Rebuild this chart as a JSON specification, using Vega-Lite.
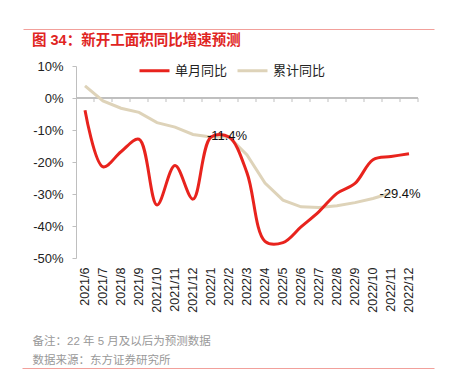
{
  "$schema": "https://vega.github.io/schema/vega-lite/v6.json",
  "width": 342,
  "height": 192,
  "autosize": {"type": "none"},
  "padding": {"left": 76, "top": 66, "right": 34, "bottom": 118},
  "config": {"view": {"stroke": null}, "font": "Liberation Sans, Noto Sans CJK SC"},
  "title": {
    "text": "图 34：新开工面积同比增速预测",
    "anchor": "start",
    "frame": "group",
    "dx": -44,
    "offset": -19,
    "fontSize": 14.5,
    "fontWeight": "bold",
    "color": "#E0251F",
    "font": "Liberation Sans, Noto Sans CJK SC"
  },
  "datasets": {
    "series": [
      {"m": "2021/6", "s": "单月同比", "v": -3.8},
      {"m": "2021/7", "s": "单月同比", "v": -21.5},
      {"m": "2021/8", "s": "单月同比", "v": -16.8},
      {"m": "2021/9", "s": "单月同比", "v": -12.9},
      {"m": "2021/10", "s": "单月同比", "v": -33.4},
      {"m": "2021/11", "s": "单月同比", "v": -21.1},
      {"m": "2021/12", "s": "单月同比", "v": -31.6},
      {"m": "2022/1", "s": "单月同比", "v": -12.2},
      {"m": "2022/2", "s": "单月同比", "v": -12.2},
      {"m": "2022/3", "s": "单月同比", "v": -23.4},
      {"m": "2022/4", "s": "单月同比", "v": -44.8},
      {"m": "2022/5", "s": "单月同比", "v": -45.2},
      {"m": "2022/6", "s": "单月同比", "v": -40.3},
      {"m": "2022/7", "s": "单月同比", "v": -35.5},
      {"m": "2022/8", "s": "单月同比", "v": -29.8},
      {"m": "2022/9", "s": "单月同比", "v": -26.7},
      {"m": "2022/10", "s": "单月同比", "v": -19.3},
      {"m": "2022/11", "s": "单月同比", "v": -18.3},
      {"m": "2022/12", "s": "单月同比", "v": -17.4},
      {"m": "2021/6", "s": "累计同比", "v": 3.8},
      {"m": "2021/7", "s": "累计同比", "v": -0.9},
      {"m": "2021/8", "s": "累计同比", "v": -3.2},
      {"m": "2021/9", "s": "累计同比", "v": -4.5},
      {"m": "2021/10", "s": "累计同比", "v": -7.7},
      {"m": "2021/11", "s": "累计同比", "v": -9.1},
      {"m": "2021/12", "s": "累计同比", "v": -11.4},
      {"m": "2022/1", "s": "累计同比", "v": -12.2},
      {"m": "2022/2", "s": "累计同比", "v": -12.2},
      {"m": "2022/3", "s": "累计同比", "v": -17.8},
      {"m": "2022/4", "s": "累计同比", "v": -26.6},
      {"m": "2022/5", "s": "累计同比", "v": -31.9},
      {"m": "2022/6", "s": "累计同比", "v": -34.0},
      {"m": "2022/7", "s": "累计同比", "v": -34.2},
      {"m": "2022/8", "s": "累计同比", "v": -33.7},
      {"m": "2022/9", "s": "累计同比", "v": -32.7},
      {"m": "2022/10", "s": "累计同比", "v": -31.4},
      {"m": "2022/11", "s": "累计同比", "v": -29.7}
    ],
    "labels": [
      {"m": "2022/2", "v": -12, "t": "-11.4%"},
      {"m": "2022/11", "v": -30, "t": "-29.4%"}
    ]
  },
  "layer": [
    {
      "encoding": {
        "x": {
          "field": "m", "type": "nominal",
          "scale": {"type": "band", "paddingInner": 0, "paddingOuter": 0,
            "domain": ["2021/6","2021/7","2021/8","2021/9","2021/10","2021/11","2021/12","2022/1","2022/2","2022/3","2022/4","2022/5","2022/6","2022/7","2022/8","2022/9","2022/10","2022/11","2022/12"]},
          "axis": {
            "orient": "bottom", "domain": false, "ticks": false, "tickSize": 0,
            "labelAngle": -90, "labelPadding": 9, "labelFontSize": 12.5, "labelColor": "#222222",
            "labelOverlap": false, "grid": false,
            "title": ["备注：22 年 5 月及以后为预测数据", "数据来源：东方证券研究所"],
            "titleAlign": "left", "titleAnchor": "start", "titleX": -44, "titleY": 77,
            "titleBaseline": "top", "titleFontSize": 11.5, "titleFontWeight": "normal",
            "titleColor": "#999999", "titleLineHeight": 19
          }
        },
        "y": {
          "field": "v", "type": "quantitative",
          "scale": {"domain": [-50, 10], "nice": false, "zero": false},
          "axis": {
            "values": [-50, -40, -30, -20, -10, 0, 10], "labelExpr": "datum.value + '%'",
            "labelOverlap": false, "grid": false, "domain": true, "ticks": true,
            "domainColor": "#BFBFBF", "tickColor": "#BFBFBF", "tickSize": 4,
            "labelPadding": 9, "labelFontSize": 13, "labelColor": "#222222", "title": null
          }
        }
      },
      "layer": [
        {
          "data": {"name": "series"},
          "mark": {"type": "rule", "color": "#BFBFBF", "strokeWidth": 1},
          "encoding": {"y": {"datum": 0}, "x": null}
        },
        {
          "data": {"name": "series"},
          "transform": [{"filter": "datum.s == '单月同比'"}],
          "mark": {"type": "rule", "color": "#BFBFBF", "strokeWidth": 1},
          "encoding": {
            "x": {"field": "m", "type": "nominal", "bandPosition": 1},
            "y": {"datum": 0},
            "y2": {"datum": -1.25}
          }
        },
        {
          "data": {"name": "series"},
          "transform": [{"filter": "datum.s == '累计同比'"}],
          "mark": {"type": "line", "strokeWidth": 3, "interpolate": "linear"},
          "encoding": {
            "color": {
              "field": "s", "type": "nominal",
              "scale": {"domain": ["单月同比", "累计同比"], "range": ["#E8231D", "#DED3B9"]},
              "legend": {
                "orient": "none", "legendX": 62, "legendY": -12, "direction": "horizontal",
                "title": null, "symbolType": "stroke", "symbolSize": 900, "symbolStrokeWidth": 3,
                "labelFontSize": 13, "labelColor": "#222222", "labelOffset": 4, "columnPadding": 3
              }
            }
          }
        },
        {
          "data": {"name": "series"},
          "transform": [{"filter": "datum.s == '单月同比'"}],
          "mark": {"type": "line", "strokeWidth": 3, "interpolate": "catmull-rom"},
          "encoding": {
            "color": {"field": "s", "type": "nominal",
              "scale": {"domain": ["单月同比", "累计同比"], "range": ["#E8231D", "#DED3B9"]}}
          }
        },
        {
          "data": {"name": "labels"},
          "transform": [{"filter": "datum.t == '-11.4%'"}],
          "mark": {"type": "text", "fontSize": 13, "color": "#111111", "dx": -2, "baseline": "middle", "align": "center"},
          "encoding": {"text": {"field": "t"}}
        },
        {
          "data": {"name": "labels"},
          "transform": [{"filter": "datum.t == '-29.4%'"}],
          "mark": {"type": "text", "fontSize": 13, "color": "#111111", "dx": 9, "baseline": "middle", "align": "center"},
          "encoding": {"text": {"field": "t"}}
        }
      ]
    },
    {
      "data": {"values": [{"p": 0}]},
      "mark": {"type": "tick", "opacity": 0},
      "encoding": {
        "x": {"field": "p", "type": "quantitative",
          "scale": {"domain": [0, 1], "range": [-53, 358]},
          "axis": {"orient": "bottom", "offset": -229, "domain": true, "domainColor": "#F2A09B", "domainWidth": 1,
            "ticks": false, "labels": false, "grid": false, "title": null}}
      }
    },
    {
      "data": {"values": [{"p": 0}]},
      "mark": {"type": "tick", "opacity": 0},
      "encoding": {
        "x": {"field": "p", "type": "quantitative",
          "scale": {"domain": [0, 1], "range": [-54, 358]},
          "axis": {"orient": "bottom", "offset": 110, "domain": true, "domainColor": "#F2A09B", "domainWidth": 1,
            "ticks": false, "labels": false, "grid": false, "title": null}}
      }
    }
  ],
  "resolve": {"scale": {"x": "independent"}}
}
